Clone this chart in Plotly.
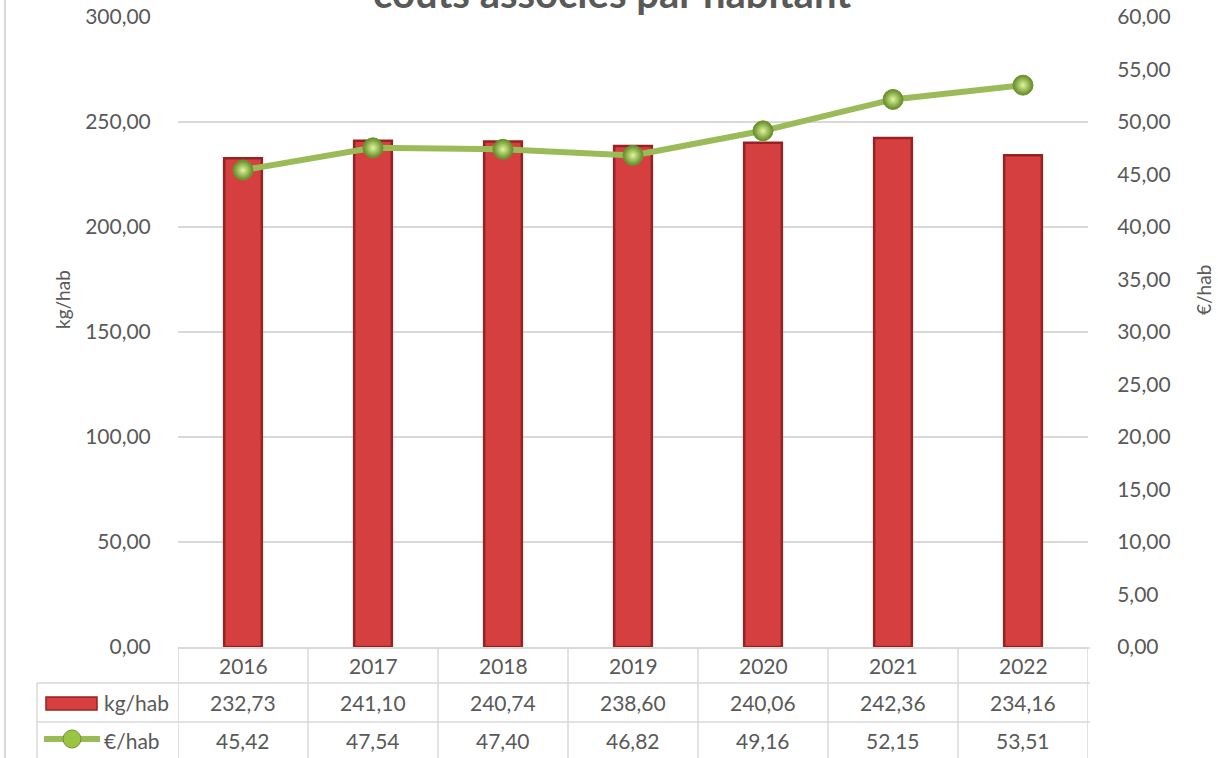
import plotly.graph_objects as go

years = ["2016", "2017", "2018", "2019", "2020", "2021", "2022"]
kg_hab = [232.73, 241.10, 240.74, 238.60, 240.06, 242.36, 234.16]
eur_hab = [45.42, 47.54, 47.40, 46.82, 49.16, 52.15, 53.51]
title_text = "coûts associés par habitant"
left_title = "kg/hab"
right_title = "€/hab"

W, H = 1218, 758
L, R, T, B = 178, 1088, 17, 647
FONT = "Lato"
GREY = "#595959"
GRID = "#d9d9d9"


def px(x):
    return (x - L) / (R - L)


def py(y):
    return (B - y) / (B - T)


def fmt(v):
    return f"{v:.2f}".replace(".", ",")


fig = go.Figure()
fig.add_trace(go.Bar(
    x=years, y=kg_hab, name=left_title, width=0.29,
    marker=dict(color="#d63f3f", line=dict(color="#962222", width=2.5)),
    yaxis="y",
))
fig.add_trace(go.Scatter(
    x=years, y=eur_hab, name=right_title, mode="lines+markers",
    line=dict(color="#9bbb59", width=6),
    marker=dict(size=20, color="#5f8a22",
                gradient=dict(type="radial", color="#e2f5a0"),
                line=dict(color="#6f9430", width=1)),
    yaxis="y2",
))

shapes = []
line_style = dict(color=GRID, width=1.5)
n = len(years)
shapes.append(dict(type="line", xref="paper", yref="paper", x0=px(178), x1=px(1090), y0=py(648), y1=py(648), line=line_style))
for yy in (683, 722):
    shapes.append(dict(type="line", xref="paper", yref="paper", x0=px(37), x1=px(1090), y0=py(yy), y1=py(yy), line=line_style))
for k in range(n + 1):
    shapes.append(dict(type="line", xref="x", yref="paper", x0=k - 0.5, x1=k - 0.5, y0=py(648), y1=py(770), line=line_style))
shapes.append(dict(type="line", xref="paper", yref="paper", x0=px(37), x1=px(37), y0=py(683), y1=py(770), line=line_style))
shapes.append(dict(type="line", xref="paper", yref="paper", x0=px(5), x1=px(5), y0=py(-5), y1=py(770), line=dict(color=GRID, width=2)))
shapes.append(dict(type="rect", xref="paper", yref="paper", x0=px(46), x1=px(97), y0=py(697), y1=py(710),
                   fillcolor="#d63f3f", line=dict(color="#962222", width=1.5)))
shapes.append(dict(type="line", xref="paper", yref="paper", x0=px(44), x1=px(100), y0=py(739), y1=py(739),
                   line=dict(color="#9bbb59", width=6)))
shapes.append(dict(type="circle", xref="paper", yref="paper", x0=px(63), x1=px(81), y0=py(730), y1=py(748),
                   fillcolor="#9cc443", line=dict(color="#6f9430", width=1)))

ann = []
tfont = dict(family=FONT, size=21, color=GREY)
for i, yv in enumerate(years):
    ann.append(dict(x=i, y=py(666), xref="x", yref="paper", text=yv, showarrow=False, font=tfont, yanchor="middle"))
    ann.append(dict(x=i, y=py(703), xref="x", yref="paper", text=fmt(kg_hab[i]), showarrow=False, font=tfont, yanchor="middle"))
    ann.append(dict(x=i, y=py(740), xref="x", yref="paper", text=fmt(eur_hab[i]), showarrow=False, font=tfont, yanchor="middle"))
ann.append(dict(x=px(102), y=py(703), xref="paper", yref="paper", text=left_title, showarrow=False, font=tfont, xanchor="left", yanchor="middle"))
ann.append(dict(x=px(102), y=py(740), xref="paper", yref="paper", text=right_title, showarrow=False, font=tfont, xanchor="left", yanchor="middle"))
ann.append(dict(x=px(62), y=py(300), xref="paper", yref="paper", text=left_title, showarrow=False, textangle=-90,
                xanchor="center", yanchor="middle", font=dict(family=FONT, size=19, color=GREY)))
ann.append(dict(x=px(1203), y=py(290), xref="paper", yref="paper", text=right_title, showarrow=False, textangle=-90,
                xanchor="center", yanchor="middle", font=dict(family=FONT, size=19, color=GREY)))
ann.append(dict(x=px(612), y=py(19), xref="paper", yref="paper", text=f"<b>{title_text}</b>", showarrow=False,
                yanchor="bottom", font=dict(family=FONT, size=40, color=GREY)))

fig.update_layout(
    width=W, height=H,
    margin=dict(l=L, r=W - R, t=T, b=H - B, autoexpand=False),
    paper_bgcolor="white", plot_bgcolor="white",
    separators=", ",
    showlegend=False,
    font=dict(family=FONT, size=21, color=GREY),
    xaxis=dict(type="category", range=[-0.5, n - 0.5], showticklabels=False, showgrid=False,
               showline=True, linecolor=GRID, linewidth=1.5, zeroline=False, ticks=""),
    yaxis=dict(range=[0, 300], dtick=50, tickformat=".2f", showgrid=True, gridcolor=GRID, gridwidth=1.5,
               zeroline=False, showline=False, ticks="outside", ticklen=22, tickcolor="rgba(0,0,0,0)",
               tickfont=dict(family=FONT, size=21, color=GREY)),
    yaxis2=dict(range=[0, 60], dtick=5, tickformat=".2f", overlaying="y", side="right", showgrid=False,
                zeroline=False, showline=False, ticks="outside", ticklen=24, tickcolor="rgba(0,0,0,0)",
                tickfont=dict(family=FONT, size=21, color=GREY)),
    bargap=0.7,
    shapes=shapes,
    annotations=ann,
)

fig.write_html("out.html", config={"displayModeBar": False},
               post_script="document.body.style.margin='0px';document.body.style.padding='0px';"
                           "document.body.style.overflow='hidden';")
